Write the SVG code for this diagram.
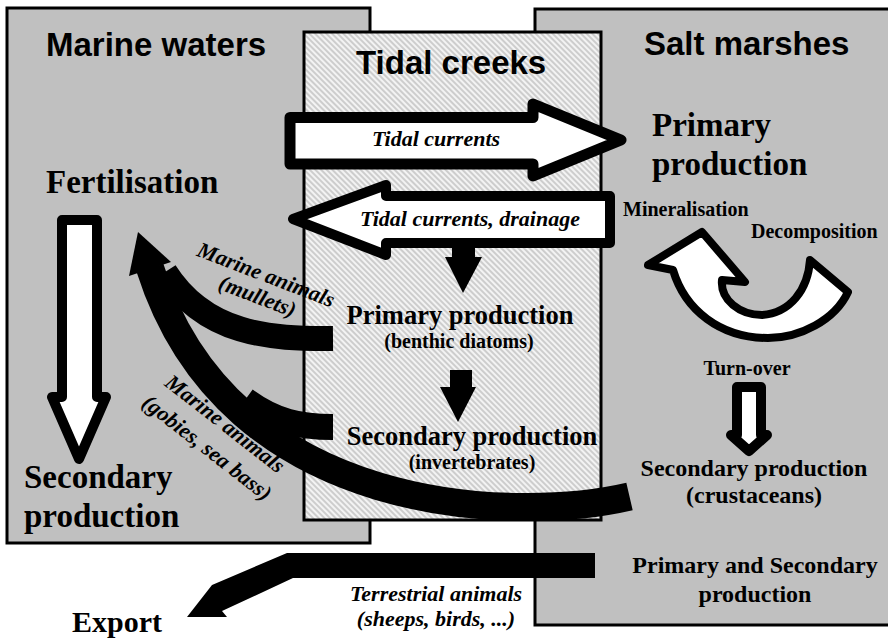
<svg xmlns="http://www.w3.org/2000/svg" width="888" height="639" viewBox="0 0 888 639">
<defs>
<pattern id="hatch" patternUnits="userSpaceOnUse" width="4" height="4" patternTransform="rotate(-45)">
<rect width="4" height="4" fill="#cdcdcd"/>
<rect width="2" height="4" fill="#f3f3f3"/>
</pattern>
<style>
.zone{fill:#c0c0c0;stroke:#000;stroke-width:3}
.creek{fill:url(#hatch);stroke:#000;stroke-width:3}
.title{font-family:"Liberation Sans",Arial,sans-serif;font-weight:bold;font-size:33px;fill:#000}
.big{font-family:"Liberation Serif","Times New Roman",serif;font-weight:bold;font-size:33px;fill:#000}
.mid{font-family:"Liberation Serif","Times New Roman",serif;font-weight:bold;font-size:24px;fill:#000}
.cmid{font-family:"Liberation Serif","Times New Roman",serif;font-weight:bold;font-size:26.5px;fill:#000}
.sm{font-family:"Liberation Serif","Times New Roman",serif;font-weight:bold;font-size:20px;fill:#000}
.it{font-family:"Liberation Serif","Times New Roman",serif;font-weight:bold;font-style:italic;font-size:22px;fill:#000}
.c{text-anchor:middle}
.hollow{fill:#fff;stroke:#000;stroke-linejoin:round}
.band{fill:none;stroke:#000;stroke-linecap:butt}
.solid{fill:#000;stroke:none}
</style>
</defs>

<g id="marine-waters">
<rect class="zone" x="7" y="8" width="363" height="535"/>
<text class="title" x="46" y="56">Marine waters</text>
</g>
<g id="salt-marshes">
<rect class="zone" x="535" y="9" width="360" height="616"/>
<text class="title" x="644" y="55">Salt marshes</text>
</g>
<g id="tidal-creeks">
<rect class="creek" x="304" y="32" width="297" height="488"/>
<text class="title" x="356" y="74">Tidal creeks</text>
</g>

<g id="fertilisation"><text class="big" x="46" y="193">Fertilisation</text></g>
<g id="marine-secondary-production">
<text class="big" x="24" y="488">Secondary</text>
<text class="big" x="24" y="527">production</text>
</g>
<g id="export"><text class="big" x="72" y="632" style="font-size:30px">Export</text></g>

<g id="marsh-primary-production">
<text class="big" x="652" y="136">Primary</text>
<text class="big" x="652" y="175">production</text>
</g>
<g id="mineralisation"><text class="sm" x="623" y="216">Mineralisation</text></g>
<g id="decomposition"><text class="sm" x="751" y="238">Decomposition</text></g>
<g id="turn-over"><text class="sm c" x="747" y="375">Turn-over</text></g>
<g id="marsh-secondary-production">
<text class="mid c" x="754" y="476">Secondary production</text>
<text class="mid c" x="754" y="503">(crustaceans)</text>
</g>
<g id="marsh-primary-secondary">
<text class="mid c" x="755" y="573">Primary and Secondary</text>
<text class="mid c" x="755" y="602">production</text>
</g>

<g id="creek-primary-production">
<text class="cmid c" x="460" y="324">Primary production</text>
<text class="sm c" x="459" y="348">(benthic diatoms)</text>
</g>
<g id="creek-secondary-production">
<text class="cmid c" x="472" y="445">Secondary production</text>
<text class="sm c" x="472" y="469">(invertebrates)</text>
</g>

<g id="connectors">
<!-- tidal currents -->
<path class="hollow" stroke-width="11" d="M290,117.5 L533,117.5 L533,104 L621,140 L533,176 L533,164 L290,164 Z"/>
<path class="hollow" stroke-width="10" d="M610,196 L386,196 L386,185 L293,219 L386,255 L386,243 L610,243 Z"/>
<!-- fertilisation -> secondary production -->
<path class="hollow" stroke-width="10" d="M62,220 L97,220 L97,397 L106,397 L79,459 L52,397 L62,397 Z"/>
<!-- creek internal flows -->
<path class="solid" d="M452,246 L475,246 L475,257 L482,257 L463,293 L445,257 L452,257 Z"/>
<path class="solid" d="M450,370 L472,370 L472,387 L476,387 L458,422 L440,387 L450,387 Z"/>
<!-- marsh recycling -->
<path class="hollow" stroke-width="8" d="M648,265 L702,232 L745,282 L722,280 C720,300 740,315 762,315 C790,313 808,290 810,260 L848,292 C835,320 800,338 768,338 C720,338 685,310 673,270 Z"/>
<path class="hollow" stroke-width="10" d="M737,387 L761,387 L761,435 L767,435 L749,451 L731,435 L737,435 Z"/>
<!-- marine animals -->
<path class="band" stroke-width="28" d="M629.5,496.5 C520,522 230,520 150,268"/>
<path class="band" stroke-width="25" d="M333,338.5 C270,339 205,335 165,272"/>
<path class="band" stroke-width="26" d="M333,427 C300,427 275,422 245,400"/>
<path class="solid" d="M138,232 L129,276 L171,262 Z"/>
<!-- export -->
<path class="solid" d="M595,553 L287,553 L212,585 L187,617 L227,617 L222,611 L293,578 L595,578 Z"/>
</g>

<g id="labels">
<text class="it c" x="436" y="146">Tidal currents</text>
<text class="it c" x="470" y="226">Tidal currents, drainage</text>
<text class="it c" transform="translate(263.5,281.5) rotate(21)">Marine animals</text>
<text class="it c" transform="translate(255,303) rotate(21)">(mullets)</text>
<text class="it c" transform="translate(220.7,429.5) rotate(38)">Marine animals</text>
<text class="it c" transform="translate(202.6,453.3) rotate(38)">(gobies, sea bass)</text>
<text class="it c" x="436" y="601">Terrestrial animals</text>
<text class="it c" x="436" y="626">(sheeps, birds, ...)</text>
</g>
</svg>
